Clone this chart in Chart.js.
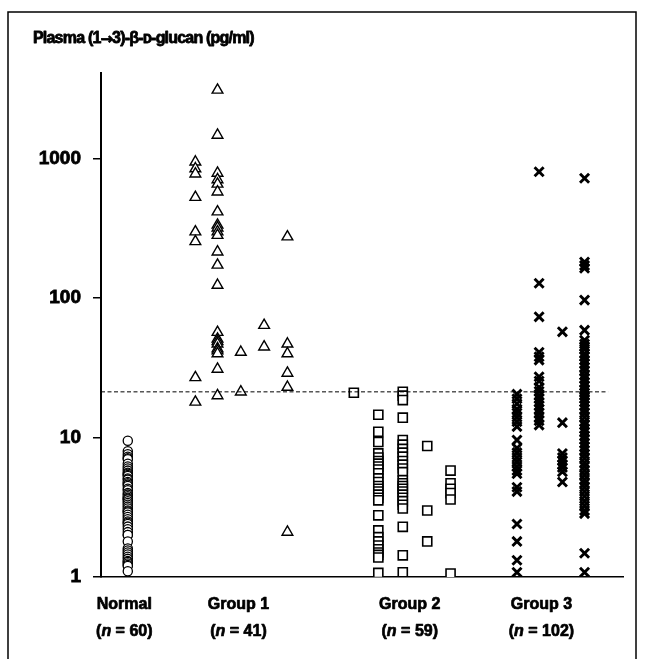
<!DOCTYPE html>
<html>
<head>
<meta charset="utf-8">
<script src="https://cdn.jsdelivr.net/npm/chart.js@4.4.1/dist/chart.umd.min.js"></script>
<style>
  html, body { margin: 0; padding: 0; background: #fff; }
  #wrap { width: 645px; height: 659px; }
</style>
</head>
<body>
<div id="wrap"><canvas id="chart" width="645" height="659"></canvas></div>
<script>
// values (pg/ml), listed top to bottom
var normalX = [1.15];
var normal = [[9.5, 8.0, 7.6, 7.3, 7.1, 7.0, 6.5, 6.2, 6.0, 5.8, 5.6, 5.5, 5.4, 5.3, 5.1, 5.0,
  4.8, 4.7, 4.6, 4.5, 4.3, 4.2, 4.0, 3.9, 3.8, 3.7, 3.65, 3.6, 3.5, 3.4, 3.3, 3.2, 3.1, 3.0,
  2.95, 2.9, 2.8, 2.7, 2.6, 2.5, 2.45, 2.4, 2.3, 2.2, 2.1, 2.0, 2.0, 1.8, 1.6, 1.55, 1.5,
  1.45, 1.4, 1.35, 1.3, 1.28, 1.25, 1.22, 1.2, 1.1]];

var group1X = [4.05, 5.0, 6.0, 7.0, 8.0];
var group1 = [
  [950, 850, 780, 530, 300, 255, 27, 18],
  [3120, 1480, 790, 710, 660, 580, 417, 335, 320, 300, 283, 215, 173, 124, 57, 51, 49, 47, 43.5, 42, 40, 31, 20],
  [41, 21.3],
  [64, 44.8],
  [276, 47, 40, 29, 23, 2.1]
];

var group2X = [10.85, 11.9, 12.95, 14.0, 15.0];
var group2 = [
  [21],
  [14.6, 11, 9.3, 7.7, 7.2, 6.8, 6.5, 6.2, 5.9, 5.55, 5.1, 4.8, 4.5, 4.3, 4.1, 3.9, 3.7, 3.55,
   2.77, 2.16, 1.93, 1.8, 1.68, 1.58, 1.5, 1.44, 1.38, 1.07],
  [21.3, 20, 18.6, 13.9, 9.6, 8.9, 8.3, 7.8, 7.3, 6.8, 6.4, 6.0, 5.65, 4.95, 4.7, 4.5, 4.3,
   4.1, 3.9, 3.7, 3.5, 3.3, 3.1, 2.29, 1.43, 1.08],
  [8.7, 3.0, 1.8],
  [5.8, 4.7, 4.3, 4.0, 3.6, 1.06]
];

var group3X = [17.85, 18.8, 19.8, 20.75];
var group3 = [
  [20.5, 19, 17.5, 16, 15, 14, 13, 12, 9.6, 8.4, 7.8, 7.2, 6.7, 6.2, 5.8, 5.5, 4.4, 4.1, 2.4, 1.8, 1.32, 1.08],
  [808, 128, 73.5, 41, 38, 36, 27.3, 25.5, 23, 21.5, 20, 19, 18, 17, 16, 15, 14, 13.2, 12.3],
  [57.4, 12.8, 7.7, 7.2, 6.8, 6.4, 6.1, 5.7, 4.8],
  [725, 182, 172, 164, 97, 59, 50, 47, 45, 43, 40, 38, 36, 34, 32, 30, 28, 26.5, 25, 23.5, 22,
   21, 20, 19, 18, 17, 16, 15, 14, 13, 12.3, 11.6, 11, 10.3, 9.7, 9.1, 8.6, 8.1, 7.6, 7.1,
   6.6, 6.2, 5.8, 5.4, 5.0, 4.7, 4.4, 4.1, 3.8, 3.5, 3.25, 3.0, 2.85, 1.48, 1.08]
];

var cutoff = 21.3;
var yTicks = [1, 10, 100, 1000];
var catNames = ['Normal', 'Group 1', 'Group 2', 'Group 3'];
var catN = [60, 41, 59, 102];
var catX = [1.0, 5.9, 13.25, 18.9];

var FONT = '"Liberation Sans", Arial, Helvetica, sans-serif';

function points(xs, cols) {
  var out = [];
  cols.forEach(function (col, i) {
    col.forEach(function (v) { out.push({ x: xs[i], y: v }); });
  });
  return out;
}

// heavy text: fill plus a thin stroke, the source uses a black-weight face
function heavy(ctx, s, x, y) {
  ctx.fillText(s, x, y);
  ctx.strokeText(s, x, y);
}

// frame, title and the two-line group labels
var extras = {
  id: 'extras',
  afterDraw: function (chart) {
    var ctx = chart.ctx;
    var xs = chart.scales.x;
    ctx.save();
    ctx.strokeStyle = '#000';
    ctx.lineWidth = 1.5;
    ctx.strokeRect(8, 12, 628, 700);

    ctx.fillStyle = '#000';
    ctx.lineWidth = 0.8;
    ctx.lineJoin = 'round';
    ctx.textBaseline = 'middle';
    ctx.textAlign = 'left';
    ctx.font = 'bold 16px ' + FONT;
    ctx.letterSpacing = '-0.8px';
    heavy(ctx, 'Plasma (1', 33, 39);
    var x1 = 33 + ctx.measureText('Plasma (1').width;
    ctx.font = 'bold 15px "DejaVu Sans", ' + FONT;
    ctx.letterSpacing = '0px';
    heavy(ctx, '\u2192', x1, 40);
    x1 += ctx.measureText('\u2192').width - 1;
    ctx.font = 'bold 16px ' + FONT;
    ctx.letterSpacing = '-0.8px';
    heavy(ctx, '3)-\u03b2-\u1d05-glucan (pg/ml)', x1, 39);
    ctx.letterSpacing = '0px';

    ctx.lineWidth = 0.7;
    catNames.forEach(function (name, i) {
      var cx = xs.getPixelForValue(catX[i]);
      ctx.font = 'bold 16px ' + FONT;
      ctx.textAlign = 'center';
      heavy(ctx, name, cx, 605);

      var a = '(', b = 'n', c = ' = ' + catN[i] + ')';
      var bold = 'bold 16px ' + FONT, ital = 'italic bold 16px ' + FONT;
      ctx.font = bold; var wa = ctx.measureText(a).width, wc = ctx.measureText(c).width;
      ctx.font = ital; var wb = ctx.measureText(b).width;
      var x0 = cx - (wa + wb + wc) / 2;
      ctx.textAlign = 'left';
      ctx.font = bold; heavy(ctx, a, x0, 632);
      ctx.font = ital; heavy(ctx, b, x0 + wa, 632);
      ctx.font = bold; heavy(ctx, c, x0 + wa + wb, 632);
    });
    ctx.restore();
  }
};

var ctx = document.getElementById('chart');
var myChart = new Chart(ctx, {
  type: 'scatter',
  data: {
    datasets: [
      {
        type: 'line',
        data: [{ x: 0, y: cutoff }, { x: 21.76, y: cutoff }],
        borderColor: '#000',
        borderWidth: 1,
        borderDash: [4, 2.5],
        pointRadius: 0,
        order: -1
      },
      {
        data: points(normalX, normal),
        pointStyle: 'circle',
        radius: 4.6,
        borderWidth: 1.3,
        borderColor: '#000',
        backgroundColor: '#fff'
      },
      {
        data: points(group1X, group1),
        pointStyle: 'triangle',
        radius: 6.2,
        borderWidth: 1.4,
        borderColor: '#000',
        backgroundColor: '#fff'
      },
      {
        data: points(group2X, group2),
        pointStyle: 'rect',
        radius: 6.4,
        borderWidth: 1.6,
        borderColor: '#000',
        backgroundColor: '#fff'
      },
      {
        data: points(group3X, group3),
        pointStyle: 'crossRot',
        radius: 6.4,
        borderWidth: 2.9,
        borderColor: '#000'
      }
    ]
  },
  options: {
    responsive: false,
    animation: false,
    events: [],
    layout: { padding: { left: 0, right: 22, top: 73, bottom: 0 } },
    plugins: { legend: { display: false }, tooltip: { enabled: false } },
    scales: {
      x: {
        type: 'linear',
        min: 0,
        max: 22.4,
        grid: { display: false },
        ticks: { display: false },
        border: { display: true, color: '#000', width: 1.5 },
        afterFit: function (s) { s.height = 82; }
      },
      y: {
        type: 'logarithmic',
        min: 1,
        max: 4130,
        afterBuildTicks: function (s) {
          s.ticks = yTicks.map(function (v) { return { value: v }; });
        },
        afterFit: function (s) { s.width = 101; },
        ticks: {
          color: '#000',
          padding: 12,
          font: { family: FONT, size: 19, weight: 'bold' },
          textStrokeColor: '#000',
          textStrokeWidth: 0.8,
          callback: function (v) { return String(v); }
        },
        grid: { drawOnChartArea: false, drawTicks: true, tickLength: 8, color: '#000', lineWidth: 1.5 },
        border: { display: true, color: '#000', width: 2 }
      }
    }
  },
  plugins: [extras]
});
</script>
</body>
</html>
